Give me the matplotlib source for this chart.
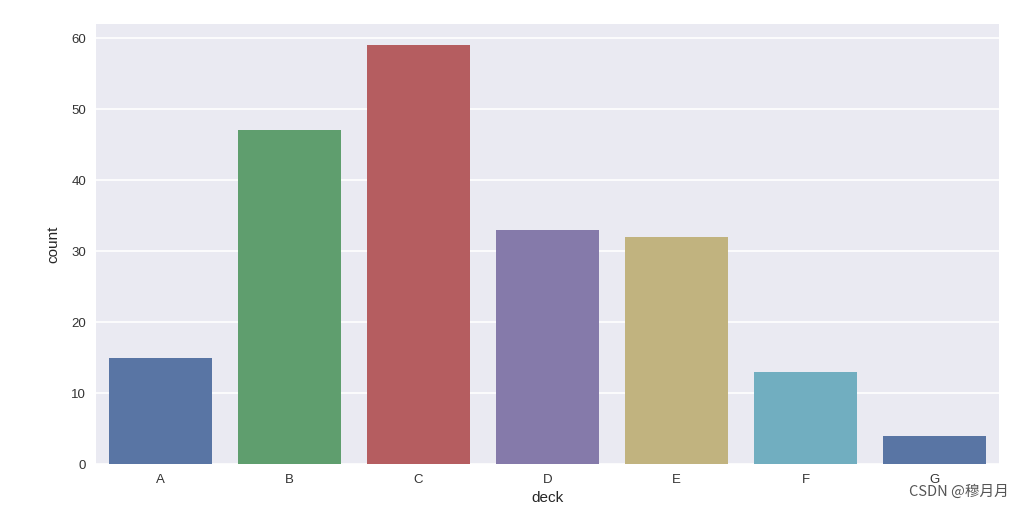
import numpy as np
import seaborn as sns
from matplotlib import pyplot as plt

decks = ["A", "B", "C", "D", "E", "F", "G"]
counts = [15, 47, 59, 33, 32, 13, 4]

sns.set_style("darkgrid")
plt.rcParams['font.family'] = ['Liberation Sans', 'DejaVu Sans']

base = ["#4C72B0", "#55A868", "#C44E52", "#8172B2", "#CCB974", "#64B5CD"]
colors = [sns.desaturate(base[i % len(base)], 0.75) for i in range(len(decks))]

fig = plt.figure(figsize=(10.23, 5.08), dpi=100)
ax = fig.add_axes([0.0938, 0.0866, 0.8828, 0.8662])

x = np.arange(len(decks))
ax.bar(x, counts, width=0.8, color=colors, linewidth=0)
ax.set_xlim(-0.5, len(decks) - 0.5)
ax.set_ylim(0, 62)
ax.set_yticks([0, 10, 20, 30, 40, 50, 60])
ax.set_xticks(x)
ax.set_xticklabels(decks)
ax.grid(False, axis="x")
ax.grid(True, axis="y", color="white", linewidth=1.2)
ax.tick_params(labelsize=9.5, colors="#333333", length=0, pad=7)
ax.set_xlabel("deck", fontsize=11, color="#262626", labelpad=4)
ax.set_ylabel("count", fontsize=11, color="#262626", labelpad=8)
for s in ax.spines.values():
    s.set_visible(False)

fig.text(0.986, 0.018, "CSDN @穆月月", ha="right", va="bottom", fontsize=10.5,
         color="#555555", family=["Noto Sans CJK SC", "DejaVu Sans"])

fig.savefig("out.png", dpi=100)
